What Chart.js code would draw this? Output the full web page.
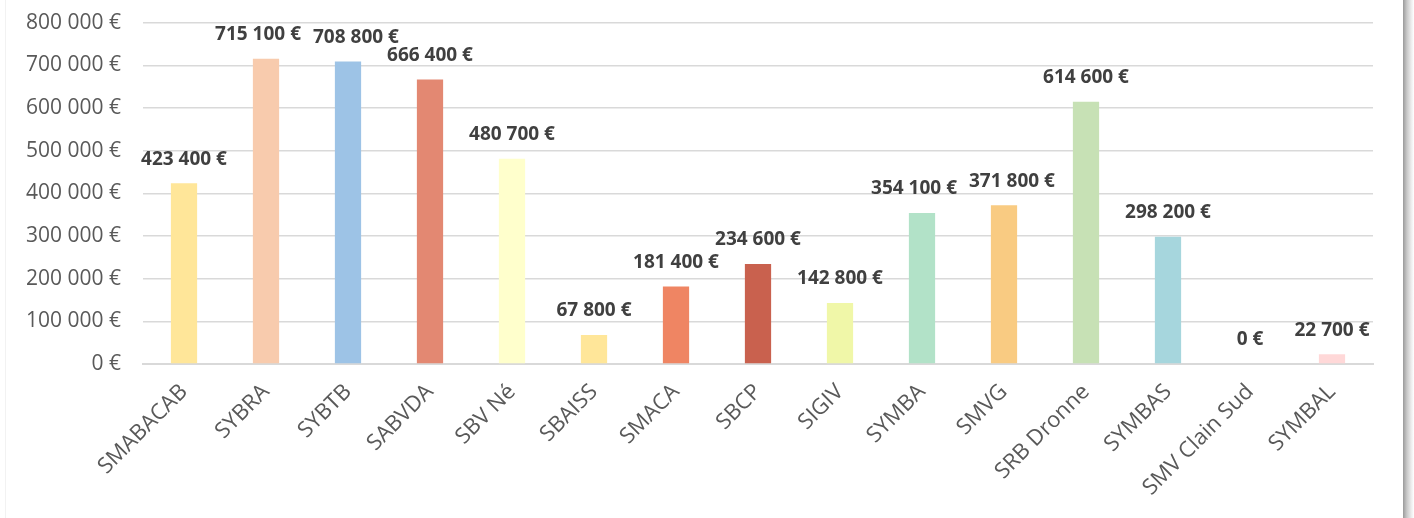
<!DOCTYPE html>
<html>
<head>
<meta charset="utf-8">
<script src="https://cdn.jsdelivr.net/npm/chart.js@4/dist/chart.umd.min.js"></script>
<style>
  html, body { margin: 0; padding: 0; background: #fff; }
  #wrap { position: relative; width: 1414px; height: 518px; overflow: hidden; background: #fff; }
  #frame { position: absolute; left: 5px; top: 0; width: 1398px; height: 518px; border-left: 1px solid #f2f2f2; background: #fff; }
  #shadow { position: absolute; left: 1403px; top: 0; width: 11px; height: 518px;
    background: linear-gradient(to right, #9a9a9a 0%, #c8c8c8 35%, #ececec 75%, #fff 100%); }
  #c { position: absolute; left: 0; top: -12px; }
</style>
</head>
<body>
<div id="wrap">
  <div id="frame"></div>
  <div id="shadow"></div>
  <canvas id="c" width="1403" height="530"></canvas>
</div>
<script>
const categories = ["SMABACAB", "SYBRA", "SYBTB", "SABVDA", "SBV Né", "SBAISS", "SMACA", "SBCP", "SIGIV", "SYMBA", "SMVG", "SRB Dronne", "SYMBAS", "SMV Clain Sud", "SYMBAL"];
const values = [423400, 715100, 708800, 666400, 480700, 67800, 181400, 234600, 142800, 354100, 371800, 614600, 298200, 0, 22700];
const barColors = ["#FFE699", "#F8CBAD", "#9DC3E6", "#E38872", "#FFFFCC", "#FFE699", "#EF8563", "#C9614E", "#F0F7A8", "#B2E2C8", "#F9CB82", "#C7E1B5", "#A6D6DD", "#F4B183", "#FFD8D8"];
const yTicks = [0, 100000, 200000, 300000, 400000, 500000, 600000, 700000, 800000];

function euro(v) {
  return String(Math.round(v)).replace(/\B(?=(\d{3})+(?!\d))/g, " ") + " €";
}

// Draws value labels above bars, nudging overlapping neighbours apart.
const labelPlugin = {
  id: "barLabels",
  afterDatasetsDraw(chart) {
    const ctx = chart.ctx;
    const meta = chart.getDatasetMeta(0);
    ctx.save();
    ctx.font = "bold 19px 'Open Sans', sans-serif";
    ctx.fillStyle = "#404040";
    ctx.textAlign = "center";
    ctx.textBaseline = "middle";
    const boxes = meta.data.map((bar, i) => {
      const t = euro(values[i]);
      return { t, x: bar.x, y: bar.y - 24, w: ctx.measureText(t).width };
    });
    for (let i = 1; i < boxes.length; i++) {
      const a = boxes[i - 1], b = boxes[i];
      if (Math.abs(a.y - b.y) < 16) {
        const ov = (a.x + a.w / 2) - (b.x - b.w / 2) + 12;
        if (ov > 0) { a.x -= ov / 2; b.x += ov / 2; }
      }
    }
    boxes.forEach(b => ctx.fillText(b.t, b.x, b.y));
    ctx.restore();
  }
};

new Chart(document.getElementById("c"), {
  type: "bar",
  data: {
    labels: categories,
    datasets: [{
      data: values,
      backgroundColor: barColors,
      borderWidth: 0,
      categoryPercentage: 1,
      barPercentage: 0.32
    }]
  },
  options: {
    responsive: false,
    animation: false,
    layout: { padding: { top: 1, right: 30, left: 0, bottom: 0 } },
    plugins: { legend: { display: false }, tooltip: { enabled: false } },
    scales: {
      y: {
        min: 0, max: 800000,
        afterBuildTicks(scale) { scale.ticks = yTicks.map(v => ({ value: v })); },
        afterFit(scale) { scale.width = 143; },
        border: { display: false },
        grid: { color: "#d9d9d9", lineWidth: 1.5, drawTicks: false },
        ticks: {
          padding: 22,
          color: "#595959",
          font: { family: "'Open Sans', sans-serif", size: 21 },
          callback: v => euro(v)
        }
      },
      x: {
        afterFit(scale) { scale.height = 154; },
        border: { display: true, color: "#d9d9d9", width: 2 },
        grid: { display: false, drawTicks: false },
        ticks: {
          minRotation: 45, maxRotation: 45,
          padding: 15,
          autoSkip: false,
          color: "#595959",
          font: { family: "'Open Sans', sans-serif", size: 22 }
        }
      }
    }
  },
  plugins: [labelPlugin]
});
</script>
</body>
</html>
